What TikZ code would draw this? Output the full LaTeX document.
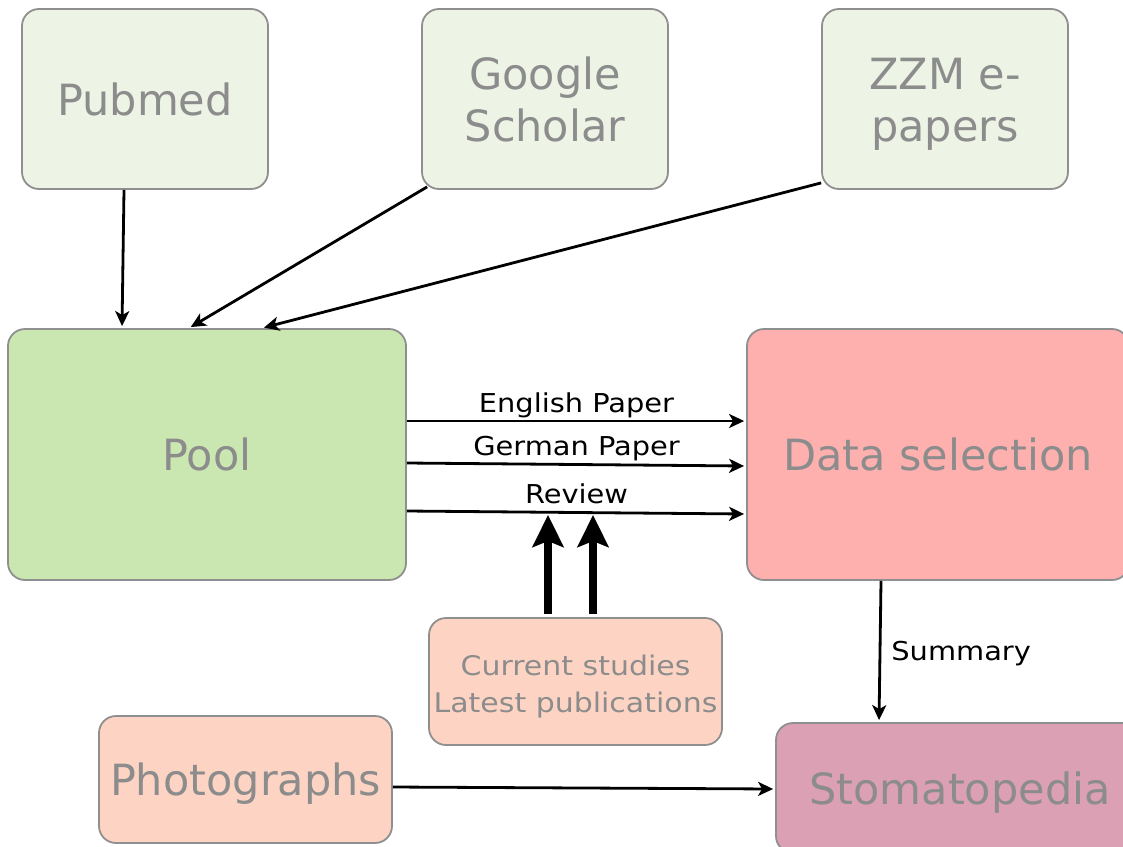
\documentclass[tikz,border=0pt]{standalone}
\usepackage{fontspec}
\setmainfont{DejaVu Sans}
\newfontfamily\widesans[FakeStretch=1.11]{DejaVu Sans}
\usetikzlibrary{arrows.meta}
\definecolor{srcgreen}{HTML}{EDF3E5}
\definecolor{poolgreen}{HTML}{CAE7B2}
\definecolor{dsred}{HTML}{FEB0AF}
\definecolor{peach}{HTML}{FDD4C3}
\definecolor{stoma}{HTML}{DBA0B3}
\definecolor{boxborder}{HTML}{8F8F8F}
\definecolor{boxtext}{HTML}{8C8C8C}
\newcommand\bigstrut{\rule[-10pt]{0pt}{52pt}}
\newcommand\topstrut{\rule{0pt}{30.4pt}}
\tikzset{
  box/.style={draw=boxborder, line width=1.8pt, rounded corners=17pt, text=boxtext, align=center, inner sep=0pt},
  bigtext/.style={font=\fontsize{43}{52}\selectfont},
  smalltext/.style={font=\widesans\fontsize{27}{37}\selectfont},
  lbl/.style={font=\widesans\fontsize{26}{30}\selectfont, text=black, inner sep=2pt},
  arr/.style={line width=2.8pt, -{Stealth[length=15pt,width=14pt,inset=4pt]}, shorten >=2pt},
  fatarr/.style={line width=8pt, -{Stealth[length=32pt,width=31pt,inset=6pt]}}
}
\begin{document}
\begin{tikzpicture}[x=1pt,y=-1pt]
\useasboundingbox (0,0) rectangle (1123,846);
\clip (0,0) rectangle (1123,846);
\fill[white] (0,0) rectangle (1123,846);
% nodes
\node[box, bigtext, fill=srcgreen, minimum width=246pt, minimum height=180pt] (pubmed) at (145,99) {\bigstrut Pubmed};
\node[box, bigtext, fill=srcgreen, minimum width=246pt, minimum height=180pt] (google) at (545,99) {\bigstrut Google\\\bigstrut Scholar};
\node[box, bigtext, fill=srcgreen, minimum width=246pt, minimum height=180pt] (zzm) at (945,99) {\bigstrut ZZM e-\\\bigstrut papers};
\node[box, bigtext, fill=poolgreen, minimum width=398pt, minimum height=251pt] (pool) at (207,454.5) {\bigstrut Pool};
\node[box, bigtext, fill=dsred, minimum width=382pt, minimum height=251pt] (ds) at (938,454.5) {\bigstrut Data selection};
\node[box, smalltext, fill=peach, minimum width=293pt, minimum height=127pt] (current) at (575.5,681.5) {\topstrut Current studies\\Latest publications};
\node[box, bigtext, fill=peach, minimum width=293pt, minimum height=127pt] (photo) at (245.5,779.5) {\bigstrut Photographs};
\node[box, bigtext, fill=stoma, minimum width=368pt, minimum height=130pt] (stoma) at (960,788) {\bigstrut Stomatopedia};
% sources to pool
\draw[arr] ([xshift=-21pt]pubmed.south) -- ([xshift=-85pt]pool.north);
\draw[arr] ([xshift=6pt,yshift=3pt]google.south west) -- ([xshift=-18pt]pool.north);
\draw[arr] ([yshift=7pt]zzm.south west) -- ([xshift=55pt]pool.north);
% pool to data selection
\draw[arr] ([yshift=33.5pt]pool.east) -- node[lbl, anchor=south] (l1) {\vphantom{Pg}English Paper} ([yshift=33.5pt]ds.west);
\draw[arr] ([yshift=-8.5pt]pool.east) -- node[lbl, anchor=south] (l2) {\vphantom{Pg}German Paper} ([yshift=-11.5pt]ds.west);
\draw[arr] ([yshift=-56.5pt]pool.east) -- node[lbl, anchor=south] (l3) {\vphantom{Pg}Review} ([yshift=-59.5pt]ds.west);
% thick arrows
\coordinate (t1) at (548,515);
\coordinate (t2) at (593,515);
\draw[fatarr] ([yshift=3pt]current.north -| t1) -- (t1);
\draw[fatarr] ([yshift=3pt]current.north -| t2) -- (t2);
% summary
\draw[arr] ([xshift=-57pt]ds.south) -- node[lbl, anchor=west, xshift=8pt, yshift=-2pt] (l4) {Summary} ([xshift=-81pt]stoma.north);
% photographs
\draw[arr] ([yshift=-7.5pt]photo.east) -- ([yshift=-1pt]stoma.west);
\end{tikzpicture}
\end{document}
